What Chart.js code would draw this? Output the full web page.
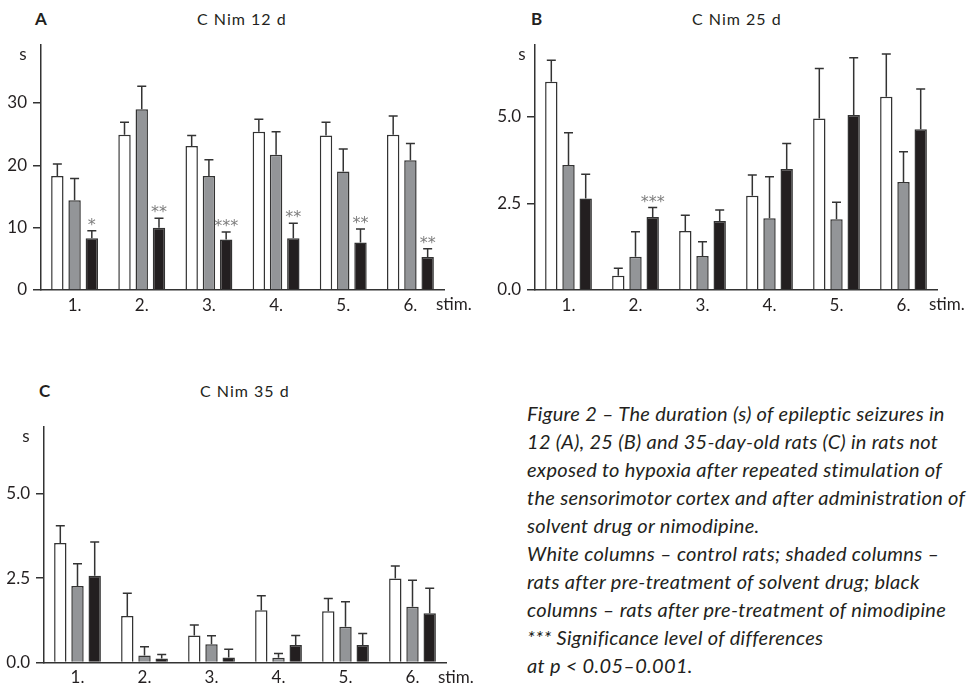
<!DOCTYPE html>
<html>
<head>
<meta charset="utf-8">
<script src="https://cdn.jsdelivr.net/npm/chart.js@4.4.1/dist/chart.umd.min.js"></script>
<style>
  body { margin: 0; background: #fff; width: 972px; height: 687px; overflow: hidden; position: relative;
         font-family: Lato, "Open Sans", sans-serif; color: #231f20; }
  canvas { position: absolute; }
  .lbl { position: absolute; font-weight: bold; font-size: 17px; line-height: 16px; }
  .ttl { position: absolute; font-size: 16px; line-height: 16px; letter-spacing: 1px; }
  #caption { position: absolute; left: 527px; top: 399px; font-style: italic; font-size: 20px;
             letter-spacing: 0.3px; line-height: 28px; white-space: nowrap; }
</style>
</head>
<body>
<div class="lbl" style="left:35px;top:11px">A</div>
<div class="ttl" style="left:197px;top:11px">C Nim 12 d</div>
<div class="lbl" style="left:531px;top:11px">B</div>
<div class="ttl" style="left:692px;top:11px">C Nim 25 d</div>
<div class="lbl" style="left:39px;top:383px">C</div>
<div class="ttl" style="left:200px;top:383px">C Nim 35 d</div>

<canvas id="chartA" width="480" height="330" style="left:0;top:0"></canvas>
<canvas id="chartB" width="492" height="330" style="left:480px;top:0"></canvas>
<canvas id="chartC" width="480" height="327" style="left:0;top:360px"></canvas>
<div id="caption"></div>

<script>
const stimuli = ['1.', '2.', '3.', '4.', '5.', '6.'];

// A: 12-day-old rats
const ctrlA = [18.3, 24.9, 23.1, 25.4, 24.8, 24.9];
const ctrlErrA = [1.9, 2.0, 1.7, 2.0, 2.1, 3.0];
const solvA = [14.4, 29.0, 18.3, 21.7, 19.0, 20.8];
const solvErrA = [3.5, 3.7, 2.6, 3.7, 3.6, 2.7];
const nimA = [8.3, 10.0, 8.1, 8.3, 7.6, 5.3];
const nimErrA = [1.2, 1.5, 1.2, 2.4, 2.2, 1.3];
const starsA = ['*', '**', '***', '**', '**', '**'];
const ticksA = [0, 10, 20, 30];
const tickLabelsA = ['0', '10', '20', '30'];

// B: 25-day-old rats
const ctrlB = [6.01, 0.41, 1.70, 2.72, 4.95, 5.58];
const ctrlErrB = [0.62, 0.22, 0.46, 0.60, 1.44, 1.23];
const solvB = [3.61, 0.96, 0.98, 2.07, 2.04, 3.12];
const solvErrB = [0.93, 0.72, 0.41, 1.20, 0.49, 0.87];
const nimB = [2.64, 2.11, 1.99, 3.49, 5.05, 4.64];
const nimErrB = [0.70, 0.27, 0.32, 0.74, 1.65, 1.16];
const starsB = ['', '***', '', '', '', ''];
const ticksB = [0, 2.5, 5];
const tickLabelsB = ['0.0', '2.5', '5.0'];

// C: 35-day-old rats
const ctrlC = [3.54, 1.38, 0.80, 1.55, 1.52, 2.49];
const ctrlErrC = [0.51, 0.67, 0.31, 0.43, 0.38, 0.37];
const solvC = [2.27, 0.21, 0.54, 0.14, 1.06, 1.65];
const solvErrC = [0.66, 0.26, 0.25, 0.13, 0.74, 0.79];
const nimC = [2.57, 0.12, 0.15, 0.52, 0.52, 1.46];
const nimErrC = [1.00, 0.12, 0.24, 0.28, 0.34, 0.74];
const starsC = ['', '', '', '', '', ''];
const ticksC = [0, 2.5, 5];
const tickLabelsC = ['0.0', '2.5', '5.0'];

const captionLines = [
  'Figure 2 \u2013 The duration (s) of epileptic seizures in',
  '12 (A), 25 (B) and 35-day-old rats (C) in rats not',
  'exposed to hypoxia after repeated stimulation of',
  'the sensorimotor cortex and after administration of',
  'solvent drug or nimodipine.',
  'White columns \u2013 control rats; shaded columns \u2013',
  'rats after pre-treatment of solvent drug; black',
  'columns \u2013 rats after pre-treatment of nimodipine',
  '*** Significance level of differences',
  'at p < 0.05\u20130.001.'
];

const INK = '#231f20';
const LINE = '#333333';

// error whiskers, asterisks, "s" and "stim." labels
const extras = {
  id: 'extras',
  afterDatasetsDraw(chart) {
    const ctx = chart.ctx, y = chart.scales.y;
    chart.data.datasets.forEach((ds, i) => {
      chart.getDatasetMeta(i).data.forEach((bar, j) => {
        const top = y.getPixelForValue(ds.data[j] + ds.errors[j]);
        ctx.save();
        ctx.strokeStyle = LINE;
        ctx.lineWidth = 1.5;
        ctx.beginPath();
        ctx.moveTo(bar.x, bar.y);
        ctx.lineTo(bar.x, top);
        ctx.moveTo(bar.x - 4.5, top);
        ctx.lineTo(bar.x + 4.5, top);
        ctx.stroke();
        if (ds.stars && ds.stars[j]) {
          ctx.fillStyle = '#7d7d7d';
          ctx.font = '16px "DejaVu Sans"';
          ctx.textAlign = 'center';
          ctx.textBaseline = 'alphabetic';
          ctx.fillText(ds.stars[j], bar.x, top - 1);
        }
        ctx.restore();
      });
    });
  },
  afterDraw(chart) {
    const ctx = chart.ctx, a = chart.chartArea, o = chart.options.plugins.extras;
    ctx.save();
    ctx.fillStyle = INK;
    ctx.font = '17px Lato';
    ctx.textBaseline = 'middle';
    ctx.textAlign = 'center';
    ctx.fillText('s', a.left - o.sOffset, a.top + 10);
    ctx.textAlign = 'left';
    ctx.fillText('stim.', a.right - 8, a.bottom + 15);
    ctx.restore();
  }
};

function makeChart(id, box, data, ymax, ticks, tickLabels, sOffset) {
  const canvas = document.getElementById(id);
  const W = canvas.width, H = canvas.height;
  return new Chart(canvas, {
    type: 'bar',
    data: {
      labels: stimuli,
      datasets: [
        { data: data[0], errors: data[1], backgroundColor: '#ffffff' },
        { data: data[2], errors: data[3], backgroundColor: '#939598' },
        { data: data[4], errors: data[5], backgroundColor: INK, stars: data[6] }
      ].map(d => Object.assign(d, {
        borderColor: LINE, borderWidth: 1.5, categoryPercentage: 0.77, barPercentage: 0.72
      }))
    },
    options: {
      responsive: false,
      animation: false,
      events: [],
      layout: { padding: { top: box.top, right: W - box.right, left: 0, bottom: 0 } },
      plugins: { legend: { display: false }, tooltip: { enabled: false }, extras: { sOffset } },
      scales: {
        x: {
          afterFit: s => { s.height = H - box.bottom; },
          grid: { display: false, drawTicks: false },
          border: { display: true, color: LINE, width: 1.5 },
          ticks: { color: INK, font: { family: 'Lato', size: 17 }, padding: 5, maxRotation: 0 }
        },
        y: {
          min: 0, max: ymax,
          afterFit: s => { s.width = box.left; },
          afterBuildTicks: s => { s.ticks = ticks.map(v => ({ value: v })); },
          grid: { drawOnChartArea: false, drawTicks: true, tickLength: 8, color: LINE, lineWidth: 1.5 },
          border: { display: true, color: LINE, width: 1.5 },
          ticks: {
            color: INK, font: { family: 'Lato', size: 17 }, padding: 6,
            callback: (v, i) => tickLabels[i]
          }
        }
      }
    },
    plugins: [extras]
  });
}

makeChart('chartA', { left: 41, right: 444, top: 45, bottom: 290 },
  [ctrlA, ctrlErrA, solvA, solvErrA, nimA, nimErrA, starsA], 39.3, ticksA, tickLabelsA, 18);
makeChart('chartB', { left: 55, right: 457, top: 45, bottom: 290 },
  [ctrlB, ctrlErrB, solvB, solvErrB, nimB, nimErrB, starsB], 7.07, ticksB, tickLabelsB, 13);
makeChart('chartC', { left: 44, right: 446, top: 67, bottom: 302.5 },
  [ctrlC, ctrlErrC, solvC, solvErrC, nimC, nimErrC, starsC], 6.98, ticksC, tickLabelsC, 18);

document.getElementById('caption').innerHTML = captionLines
  .map(l => '<div>' + l.replace('<', '&lt;') + '</div>').join('');
</script>
</body>
</html>
